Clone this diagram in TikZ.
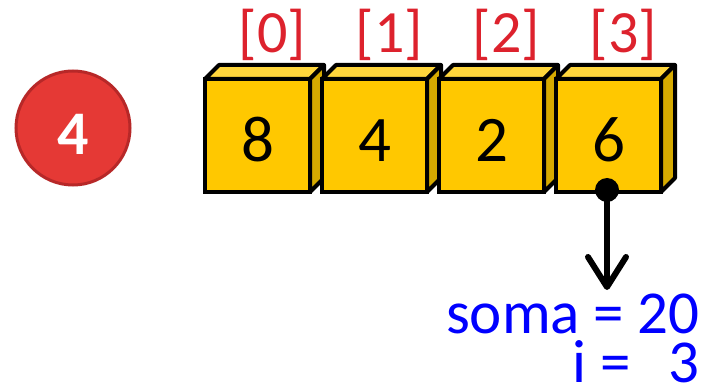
\documentclass[tikz,border=0pt]{standalone}
\usepackage{fontspec}
\setmainfont{Carlito}
\usetikzlibrary{arrows.meta}
\definecolor{cubefront}{RGB}{255,200,0}
\definecolor{cubetop}{RGB}{255,214,60}
\definecolor{cubeside}{RGB}{214,170,0}
\definecolor{idxred}{RGB}{221,34,45}
\definecolor{badgefill}{RGB}{229,57,53}
\definecolor{badgeline}{RGB}{183,40,40}
\definecolor{varblue}{RGB}{0,0,255}
\tikzset{
  front/.style={rectangle,draw,line width=4pt,fill=cubefront,minimum width=105pt,minimum height=113pt,inner sep=0pt},
  facetop/.style={draw,line width=4pt,line join=round,fill=cubetop},
  faceside/.style={draw,line width=4pt,line join=round,fill=cubeside},
  numtext/.style={anchor=base,inner sep=0pt,font=\fontsize{65}{65}\selectfont},
  idxtext/.style={anchor=base,inner sep=0pt,text=idxred,font=\fontsize{60}{60}\selectfont},
  vartext/.style={anchor=base east,inner sep=0pt,text=varblue,align=right,font=\fontsize{61}{49}\selectfont},
  badge/.style={circle,draw=badgeline,line width=3pt,fill=badgefill,minimum size=114pt,inner sep=0pt},
}
\begin{document}
\begin{tikzpicture}[x=1pt,y=-1pt]
\useasboundingbox (0,0) rectangle (711,387);
% badge
\node[badge] (badge) at (73,128) {};
\node[anchor=base,inner sep=0pt,text=white,font=\fontsize{62}{62}\selectfont\bfseries] (badgenum) at (73,155) {4};
% cubes
\foreach \i/\x/\v in {0/257.5/8,1/374.5/4,2/491.5/2,3/608.5/6}{
  \coordinate (p\i) at (\x,135.5);
  \path (p\i) ++(-52.5,-56.5) coordinate (tl\i) ++(105,0) coordinate (tr\i) ++(0,113) coordinate (br\i);
  \draw[facetop] (tl\i) -- ++(14,-14) -- ++(105,0) -- (tr\i) -- cycle;
  \draw[faceside] (tr\i) -- ++(14,-14) -- ++(0,113) -- (br\i) -- cycle;
  \node[front] (c\i) at (p\i) {};
  \node[numtext] (n\i) at (\x,162) {\v};
  \node[idxtext] (idx\i) at (\x+15,53) {[\i]};
}
% pointer
\node[circle,fill=black,minimum size=24pt,inner sep=0pt] (dot) at (607,190) {};
\coordinate (arrowend) at (607,290);
\draw[line width=6pt,-{Straight Barb[length=30pt,width=38pt,line join=round,line cap=round]}] (dot.center) -- (arrowend);
% variables
\node[vartext] (vars) at (700,382) {soma = 20\\i =\hspace{38pt}3};
\end{tikzpicture}
\end{document}
